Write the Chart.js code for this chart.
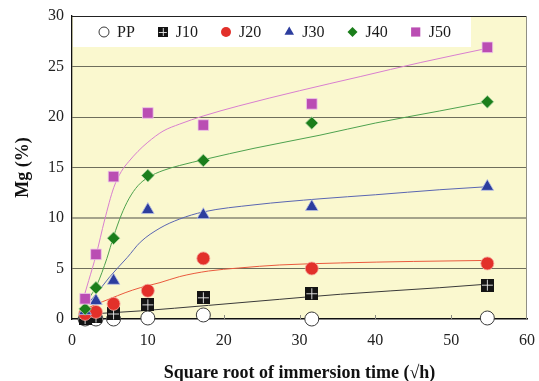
<!DOCTYPE html>
<html>
<head>
<meta charset="utf-8">
<script src="https://cdn.jsdelivr.net/npm/chart.js@4.4.1/dist/chart.umd.min.js"></script>
<style>
  html, body { margin: 0; padding: 0; background: #ffffff; }
  #wrap { width: 539px; height: 381px; }
</style>
</head>
<body>
<div id="wrap"><canvas id="c" width="539" height="381"></canvas></div>
<script>
// ---- measured values: Mg content vs square root of immersion time ----
const sqrtTime = [1.73, 3.16, 5.48, 10, 17.32, 31.62, 54.77];
const mgPP  = [0.0, 0.0, 0.0, 0.1, 0.4, 0.0, 0.1];
const mgJ10 = [0.05, 0.2, 0.5, 1.4, 2.1, 2.5, 3.35];
const mgJ20 = [0.5, 0.7, 1.5, 2.8, 6.0, 5.0, 5.5];
const mgJ30 = [0.8, 1.8, 3.8, 10.8, 10.3, 11.1, 13.1];
const mgJ40 = [1.0, 3.1, 8.0, 14.2, 15.7, 19.4, 21.5];
const mgJ50 = [2.0, 6.4, 14.1, 20.4, 19.2, 21.3, 26.9];

// ---- trend curves (points along each fitted curve) ----
const fitJ10x = [1.3, 9, 18, 27.4, 35.4, 48.5, 54.77];
const fitJ10y = [0.45, 0.8, 1.35, 1.95, 2.45, 3.1, 3.45];
const fitJ20x = [1.3, 3, 5, 7, 9, 11.6, 14.2, 18, 22, 27.4, 35.4, 45, 54.77];
const fitJ20y = [0.8, 1.4, 2.0, 2.6, 3.1, 3.6, 4.2, 4.75, 5.05, 5.35, 5.55, 5.7, 5.8];
const fitJ30x = [1.3, 3, 5, 7.3, 9, 11.6, 14.2, 17.3, 24, 32.7, 40, 48.5, 54.77];
const fitJ30y = [0.9, 2.3, 4.2, 6.1, 7.6, 9.0, 9.9, 10.6, 11.3, 11.9, 12.3, 12.8, 13.1];
const fitJ40x = [1.3, 2.2, 3.3, 4.6, 5.5, 6.5, 7.5, 8.7, 10, 12, 14.2, 17.5, 24, 32.7, 40, 48.5, 54.77];
const fitJ40y = [1.0, 2.0, 3.4, 6.0, 8.2, 10.3, 11.9, 13.2, 14.0, 14.7, 15.2, 15.8, 16.9, 18.2, 19.4, 20.6, 21.5];
const fitJ50x = [1.3, 2.2, 3.2, 4.3, 5.5, 6.5, 7.5, 8.7, 10, 12, 14.2, 17.3, 22, 30, 38, 46, 54.77];
const fitJ50y = [1.5, 3.8, 6.4, 9.8, 13.0, 14.6, 15.6, 16.6, 17.5, 18.6, 19.3, 20.1, 21.1, 22.6, 24.0, 25.4, 26.8];

// ---- axes ----
const xTickValues = [0, 10, 20, 30, 40, 50, 60];
const yTickValues = [0, 5, 10, 15, 20, 25, 30];
const xTitle = 'Square root of immersion time (\u221Ah)';
const yTitle = 'Mg (%)';

const SERIF = '"Liberation Serif", "Times New Roman", Times, serif';
Chart.defaults.font.family = SERIF;

function toPts(xs, ys) { return xs.map((x, i) => ({ x: x, y: ys[i] })); }

// black square split by a thin white cross
function crossSquare(size) {
  const c = document.createElement('canvas');
  c.width = size; c.height = size;
  const g = c.getContext('2d');
  g.fillStyle = '#141414';
  g.fillRect(0, 0, size, size);
  g.fillStyle = 'rgba(235,235,235,0.9)';
  const m = Math.floor(size / 2);
  g.fillRect(m, 1, 1, size - 2);
  g.fillRect(1, m, size - 2, 1);
  return c;
}
const j10Marker = crossSquare(13);
const j10Legend = crossSquare(10);

const markerSets = [
  { label: 'PP',  data: toPts(sqrtTime, mgPP),  pointStyle: 'circle', pointRadius: 7,
    backgroundColor: '#ffffff', borderColor: '#3a3a3a', borderWidth: 1, order: 6,
    legendStyle: 'circle', legendRadius: 5 },
  { label: 'J10', data: toPts(sqrtTime, mgJ10), pointStyle: j10Marker, pointRadius: 7,
    backgroundColor: '#141414', borderColor: '#141414', borderWidth: 0, order: 5,
    legendStyle: j10Legend, legendRadius: 5 },
  { label: 'J20', data: toPts(sqrtTime, mgJ20), pointStyle: 'circle', pointRadius: 6.5,
    backgroundColor: '#e2302a', borderColor: '#f4a49a', borderWidth: 0.8, order: 4,
    legendStyle: 'circle', legendRadius: 5 },
  { label: 'J30', data: toPts(sqrtTime, mgJ30), pointStyle: 'triangle', pointRadius: 7.3,
    backgroundColor: '#2c3d9e', borderColor: '#b9c0e6', borderWidth: 0.8, order: 3,
    legendStyle: 'triangle', legendRadius: 5.5 },
  { label: 'J40', data: toPts(sqrtTime, mgJ40), pointStyle: 'rectRot', pointRadius: 6.3,
    backgroundColor: '#1b7e1b', borderColor: '#a9d3a0', borderWidth: 0.8, order: 2,
    legendStyle: 'rectRot', legendRadius: 5 },
  { label: 'J50', data: toPts(sqrtTime, mgJ50), pointStyle: 'rect', pointRadius: 7.5,
    backgroundColor: '#ba4db3', borderColor: '#edc6ea', borderWidth: 0.8, order: 1,
    legendStyle: 'rect', legendRadius: 6.5 }
];
markerSets.forEach(ds => { ds.showLine = false; ds.clip = false; ds.pointHoverRadius = ds.pointRadius; });

function curve(label, xs, ys, color) {
  return { label: label, data: toPts(xs, ys), showLine: true, pointRadius: 0, pointHoverRadius: 0,
    borderColor: color, borderWidth: 1, fill: false, cubicInterpolationMode: 'monotone',
    order: 20 };
}
const curveSets = [
  curve('J10 fit', fitJ10x, fitJ10y, '#3a3a3a'),
  curve('J20 fit', fitJ20x, fitJ20y, '#ea5a3e'),
  curve('J30 fit', fitJ30x, fitJ30y, '#5a66b2'),
  curve('J40 fit', fitJ40x, fitJ40y, '#4ea24e'),
  curve('J50 fit', fitJ50x, fitJ50y, '#d97fcf')
];

// legend geometry inside the plot
const LEGEND_FIRST = 32;   // first marker centre, from the plot's left edge
const LEGEND_TEXT_GAP = 13;
const LEGEND_ITEM_GAP = 28;
const LEGEND_END_PAD = 20;
const LEGEND_HEIGHT = 31;

// plot background, frame, in-plot legend and inner tick marks
const decor = {
  id: 'decor',
  beforeDraw(chart) {
    const { ctx, chartArea: a } = chart;
    ctx.save();
    ctx.fillStyle = '#faf8cf';
    ctx.fillRect(a.left, a.top, a.right - a.left, a.bottom - a.top);
    ctx.restore();
  },
  beforeDatasetsDraw(chart) {
    const { ctx, chartArea: a, scales } = chart;
    ctx.save();
    // inner tick marks on the x axis
    ctx.strokeStyle = '#8a8a80';
    ctx.lineWidth = 1;
    xTickValues.slice(1, -1).forEach(v => {
      const px = Math.round(scales.x.getPixelForValue(v)) + 0.5;
      ctx.beginPath(); ctx.moveTo(px, a.bottom); ctx.lineTo(px, a.bottom - 4); ctx.stroke();
    });

    // legend
    ctx.font = '16px ' + SERIF;
    const items = [];
    let mx = a.left + LEGEND_FIRST;
    markerSets.forEach(ds => {
      const w = ctx.measureText(ds.label).width;
      items.push({ ds: ds, mx: mx, tx: mx + LEGEND_TEXT_GAP, w: w });
      mx = mx + LEGEND_TEXT_GAP + w + LEGEND_ITEM_GAP;
    });
    const last = items[items.length - 1];
    const boxRight = Math.round(last.tx + last.w + LEGEND_END_PAD);
    ctx.fillStyle = '#ffffff';
    ctx.fillRect(a.left + 1, a.top, boxRight - (a.left + 1), LEGEND_HEIGHT);
    const cy = a.top + 16;
    items.forEach(it => {
      const ds = it.ds;
      ctx.fillStyle = ds.backgroundColor;
      ctx.strokeStyle = ds.label === 'PP' ? '#3a3a3a' : ds.backgroundColor;
      ctx.lineWidth = 1;
      Chart.helpers.drawPoint(ctx, { pointStyle: ds.legendStyle, radius: ds.legendRadius,
        borderWidth: ds.label === 'PP' ? 1 : 0, rotation: 0 }, it.mx, cy);
      ctx.fillStyle = '#1a1a1a';
      ctx.textBaseline = 'middle';
      ctx.textAlign = 'left';
      ctx.fillText(ds.label, it.tx, cy + 0.5);
    });

    // top and right frame lines
    ctx.strokeStyle = '#222';
    ctx.lineWidth = 1;
    ctx.beginPath(); ctx.moveTo(a.left, a.top + 0.5); ctx.lineTo(a.right, a.top + 0.5); ctx.stroke();
    ctx.strokeStyle = '#8f8f84';
    ctx.beginPath(); ctx.moveTo(a.right - 0.5, a.top); ctx.lineTo(a.right - 0.5, a.bottom); ctx.stroke();
    ctx.restore();
  }
};

new Chart(document.getElementById('c'), {
  type: 'scatter',
  data: { datasets: markerSets.concat(curveSets) },
  options: {
    responsive: false,
    devicePixelRatio: 1,
    animation: false,
    events: [],
    layout: { padding: { left: 0, right: 12, top: 16, bottom: 0 } },
    plugins: { legend: { display: false }, tooltip: { enabled: false } },
    scales: {
      x: {
        type: 'linear', min: 0, max: 60,
        afterBuildTicks: s => { s.ticks = xTickValues.map(v => ({ value: v })); },
        afterFit: s => { s.height = 62; s.paddingLeft = 0; s.paddingRight = 0; },
        grid: { display: true, drawOnChartArea: false, drawTicks: false },
        border: { display: true, color: '#111', width: 1.5 },
        ticks: { padding: 12, color: '#222', maxRotation: 0, font: { family: SERIF, size: 16 } },
        title: { display: true, text: xTitle, color: '#111',
          font: { family: SERIF, size: 18, weight: 'bold' }, padding: { top: 0, bottom: -3 } }
      },
      y: {
        type: 'linear', min: 0, max: 30,
        afterBuildTicks: s => { s.ticks = yTickValues.map(v => ({ value: v })); },
        afterFit: s => { s.width = 72; s.paddingTop = 0; s.paddingBottom = 0; },
        grid: {
          drawOnChartArea: true, drawTicks: false,
          color: c => (c.tick.value === 0 || c.tick.value === 30) ? 'rgba(0,0,0,0)'
                      : (c.tick.value === 10 ? '#a4a38b' : '#6e6e5c'),
          lineWidth: c => c.tick.value === 10 ? 2 : 1
        },
        border: { display: true, color: '#111', width: 1.3 },
        ticks: { padding: 8, color: '#222', font: { family: SERIF, size: 16 } },
        title: { display: true, text: yTitle, color: '#111',
          font: { family: SERIF, size: 18, weight: 'bold' }, padding: { top: 13, bottom: 0 } }
      }
    }
  },
  plugins: [decor]
});
</script>
</body>
</html>
